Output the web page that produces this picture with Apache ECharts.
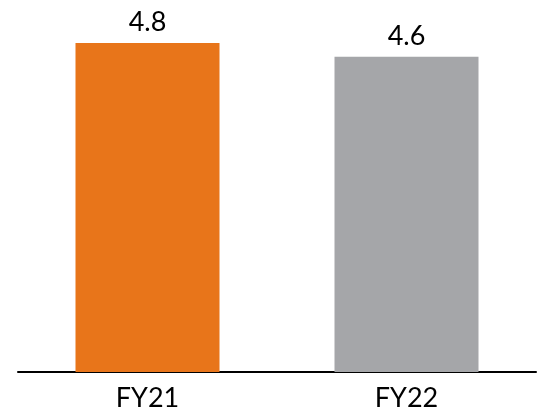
<!DOCTYPE html>
<html><head><meta charset="utf-8">
<script src="https://cdn.jsdelivr.net/npm/echarts@6/dist/echarts.min.js"></script>
<style>html,body{margin:0;padding:0;background:#fff}#c{width:552px;height:417px}</style>
</head><body><div id="c"></div>
<script>
const categories = ["FY21", "FY22"];
const values = [4.8, 4.6];
const colors = ["#E8751A", "#A5A6A9"];
const chart = echarts.init(document.getElementById('c'));
chart.setOption({
  animation: false,
  grid: {left: 18, right: 16, top: 43, bottom: 45},
  xAxis: {
    type: 'category', data: categories,
    axisLine: {lineStyle: {color: '#000', width: 2}},
    axisTick: {show: false},
    axisLabel: {color: '#000', fontSize: 27, fontFamily: 'Lato', margin: 13}
  },
  yAxis: {type: 'value', min: 0, max: 4.8, show: false, splitLine: {show: false}},
  series: [{
    type: 'bar', barWidth: 144,
    data: values.map((v, i) => ({value: v, itemStyle: {color: colors[i]}})),
    label: {show: true, position: 'top', distance: 7, color: '#000', fontSize: 27, fontFamily: 'Lato',
      formatter: p => p.value.toFixed(1)}
  }]
});
</script></body></html>
